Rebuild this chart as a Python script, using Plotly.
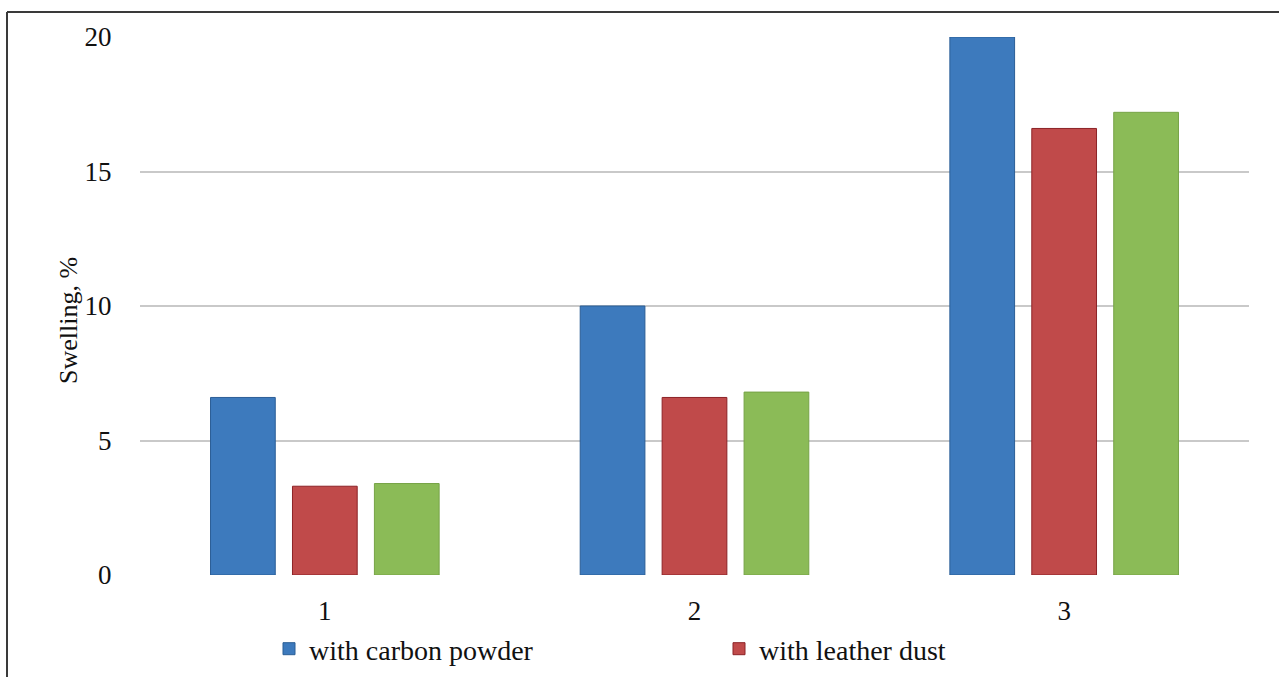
import plotly.graph_objects as go

categories = ["1", "2", "3"]
carbon = [6.6, 10.0, 20.0]
leather = [3.3, 6.6, 16.6]
combined = [3.4, 6.8, 17.2]
y_ticks = [0, 5, 10, 15, 20]

W, H = 1279, 677
L, R, T, B = 140, 30, 37, 102
pw, ph = W - L - R, H - T - B

font = "Liberation Serif, Times New Roman, serif"

fig = go.Figure()
fig.add_trace(go.Bar(x=categories, y=carbon, name="with carbon powder",
                     marker=dict(color="#3d7abd", line=dict(color="#2b5e96", width=1))))
fig.add_trace(go.Bar(x=categories, y=leather, name="with leather dust",
                     marker=dict(color="#c04a4a", line=dict(color="#8c2226", width=1))))
fig.add_trace(go.Bar(x=categories, y=combined, name="combined",
                     showlegend=False,
                     marker=dict(color="#8bbb57", line=dict(color="#76a346", width=1))))

# border lines (left and top)
x_left = (7 - L) / pw
x_right = (W - L) / pw
y_top = 1 + (T - 12) / ph
y_bot = -(H - T - ph + 5) / ph
fig.add_shape(type="line", xref="paper", yref="paper", x0=x_left, x1=x_right, y0=y_top, y1=y_top,
              line=dict(color="#3a3a3a", width=2))
fig.add_shape(type="line", xref="paper", yref="paper", x0=x_left, x1=x_left, y0=y_top, y1=y_bot,
              line=dict(color="#3a3a3a", width=2))

# y-axis title as annotation for precise placement
fig.add_annotation(text="Swelling, %", xref="paper", yref="paper",
                   x=(69 - L) / pw, y=(575 - 321) / ph, xanchor="center", yanchor="middle",
                   textangle=-90, showarrow=False, font=dict(size=26, family=font, color="#111111"))

fig.update_layout(
    width=W, height=H,
    margin=dict(l=L, r=R, t=T, b=B, autoexpand=False),
    paper_bgcolor="white", plot_bgcolor="white",
    barmode="group", bargap=0.335, bargroupgap=0.21,
    font=dict(family=font, size=27, color="#111111"),
    xaxis=dict(showgrid=False, showline=False, zeroline=False,
               ticks="outside", ticklen=12, tickcolor="rgba(0,0,0,0)",
               tickfont=dict(size=27, family=font)),
    yaxis=dict(range=[0, 20], tickvals=y_ticks, showgrid=True, gridcolor="#c9c9c9", gridwidth=2,
               zeroline=False, showline=False,
               ticks="outside", ticklen=22, tickcolor="rgba(0,0,0,0)",
               tickfont=dict(size=27, family=font)),
    legend=dict(orientation="h", x=(269 - L) / pw, xanchor="left", y=-(624 - 575) / ph, yanchor="top",
                font=dict(size=28, family=font), entrywidth=405, entrywidthmode="pixels",
                bgcolor="rgba(0,0,0,0)"),
)

fig.write_html("out.html")
